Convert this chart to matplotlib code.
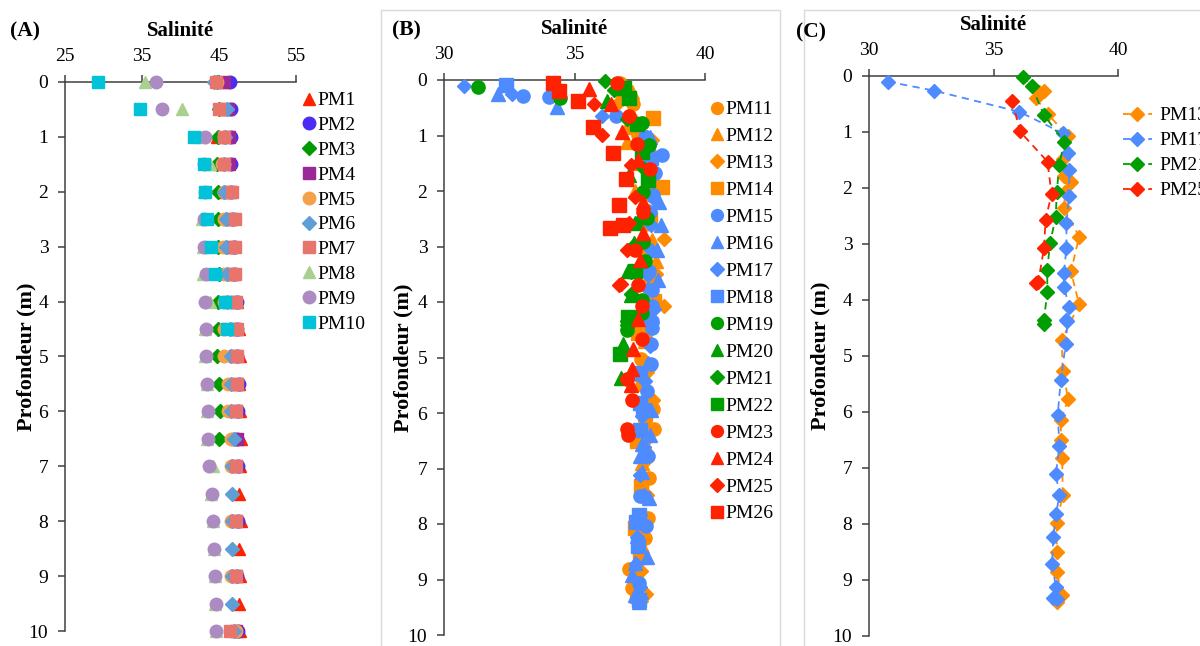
"""Salinity depth profiles, three panels (A, B, C)."""

import matplotlib
matplotlib.use("Agg")
import matplotlib.pyplot as plt
import numpy as np
from matplotlib.patches import Rectangle

nan = np.nan

# ---- panel A: PM1-PM10, one reading every 0.5 m ----
depth_a = [0, 0.5, 1, 1.5, 2, 2.5, 3, 3.5, 4, 4.5, 5, 5.5, 6, 6.5, 7, 7.5, 8, 8.5, 9, 9.5, 10]
pm1 = [45.6, 45.8, 44.7, 44.9, 45.6, 46.2, 46.5, 46.8, 47.4, 47.6, 47.7, 47.6, 47.7, 47.8, 47.7, 47.6, 47.8, 47.6, 47.7, 47.6, 47.7]
pm2 = [46.4, 46.5, 46.5, 46.5, 46.6, 46.8, 46.9, 47.0, 47.3, 47.3, 47.4, 47.6, 47.5, 47.4, 47.5, nan, 47.5, nan, 47.4, nan, 47.5]
pm3 = [44.8, 45.0, 44.9, 44.8, 44.9, 44.9, 44.9, 45.0, 44.9, 44.9, 44.8, 45.0, 45.1, 45.05, nan, nan, nan, nan, nan, nan, nan]
pm4 = [45.6, 46.2, 46.3, 46.3, 46.4, 46.5, 46.6, 46.7, 47.0, 47.1, 47.1, 47.3, 47.2, 47.3, 47.2, nan, 47.2, nan, 47.2, nan, 47.2]
pm5 = [44.8, 45.3, 45.6, 45.4, 45.6, 45.6, 45.5, 45.6, 45.7, 45.6, 45.7, 46.2, 46.2, 46.5, 46.5, nan, 46.5, nan, 46.6, nan, 47.2]
pm6 = [44.3, 46.0, 45.8, 45.7, 45.7, 45.9, 45.9, 46.0, 46.1, 46.4, 46.6, 46.5, 46.5, 46.9, 46.7, 46.7, 46.7, 46.7, 46.7, 46.7, 46.9]
pm7 = [44.6, 45.0, 45.7, 45.7, 46.7, 47.1, 47.1, 47.1, 47.2, 47.3, 47.3, 47.3, 47.2, nan, 47.15, nan, 47.2, nan, 47.15, nan, 46.4]
pm8 = [35.4, 40.2, 42.6, 43.8, 43.0, 42.8, 42.9, 42.9, 43.8, 43.2, 43.2, 43.4, 43.5, 43.5, 44.2, 44.0, 44.2, 44.35, 44.45, 44.5, 44.55]
pm9 = [36.8, 37.6, 43.2, 43.0, 43.2, 43.0, 43.0, 43.3, 43.2, 43.3, 43.3, 43.5, 43.6, 43.6, 43.7, 44.05, 44.26, 44.4, 44.48, 44.57, 44.6]
pm10 = [29.25, 34.7, 41.8, 43.1, 43.2, 43.5, 44.0, 44.5, 45.8, 46.0, nan, nan, nan, nan, nan, nan, nan, nan, nan, nan, nan]

# ---- panel B/C: PM11-PM26, irregular depths ----
pm11_d = [0.05, 0.43, 0.99, 1.5, 2.0, 2.6, 3.1, 3.6, 4.1, 4.6, 5.03, 5.5, 5.92, 6.29, 6.7, 7.17, 7.5, 7.89, 8.25, 8.81, 9.16]
pm11_s = [36.74, 37.25, 37.44, 37.6, 37.7, 37.75, 37.8, 37.9, 37.95, 37.7, 37.55, 37.6, 38.0, 38.05, 37.7, 37.85, 37.6, 37.8, 37.72, 37.1, 37.2]
pm12_d = [0.21, 0.84, 1.11, 1.5, 2.0, 2.4, 2.88, 3.27, 3.7, 4.2, 4.7, 5.2, 5.7, 6.2, 6.9, 7.4, 7.9, 8.4, 8.9]
pm12_s = [37.19, 37.02, 37.02, 37.4, 37.3, 37.7, 37.97, 38.12, 37.9, 37.8, 37.7, 37.6, 37.9, 37.7, 37.58, 37.6, 37.5, 37.6, 37.4]
pm13_d = [0.26, 0.28, 0.40, 0.67, 1.08, 1.49, 1.79, 1.89, 2.07, 2.36, 2.87, 3.49, 4.08, 4.71, 5.27, 5.77, 6.14, 6.50, 6.83, 7.48, 7.99, 8.50, 8.85, 9.26, 9.39]
pm13_s = [37.03, 36.84, 36.71, 37.17, 37.98, 37.78, 37.83, 38.11, 37.87, 37.84, 38.44, 38.11, 38.44, 37.74, 37.78, 38.0, 37.7, 37.71, 37.76, 37.78, 37.54, 37.54, 37.54, 37.74, 37.54]
pm14_d = [0.69, 1.2, 1.93, 2.5, 3.0, 3.99, 4.56, 5.3, 6.0, 6.5, 7.31, 8.07, 8.6, 9.3]
pm14_s = [38.02, 37.8, 38.34, 37.9, 37.7, 38.05, 37.42, 37.6, 37.7, 37.4, 37.56, 37.33, 37.5, 37.4]
pm15_d = [0.28, 0.30, 0.65, 1.02, 1.35, 1.67, 2.07, 2.38, 3.44, 3.78, 4.08, 4.35, 4.47, 4.75, 5.12, 5.6, 6.78, 7.5, 8.03, 9.06]
pm15_s = [33.04, 34.03, 36.59, 37.70, 38.34, 38.08, 37.99, 37.9, 37.85, 37.96, 37.96, 37.96, 37.96, 37.92, 37.92, 37.77, 37.8, 37.5, 37.74, 37.49]
pm16_d = [0.26, 0.49, 1.02, 2.19, 2.61, 3.06, 3.60, 5.1, 5.94, 6.39, 6.55, 6.77, 7.06, 7.53, 8.22, 8.59, 8.7, 8.91, 9.28, 9.4]
pm16_s = [32.08, 34.32, 37.88, 38.25, 38.3, 38.15, 38.21, 37.8, 37.94, 37.89, 37.6, 37.5, 37.58, 37.85, 37.38, 37.77, 37.3, 37.22, 37.3, 37.46]
pm17_d = [0.10, 0.26, 0.64, 1.02, 1.38, 1.68, 2.14, 2.62, 3.07, 3.51, 3.76, 4.13, 4.35, 4.38, 4.79, 5.43, 6.05, 6.61, 7.11, 7.48, 7.83, 8.23, 8.72, 9.13, 9.33, 9.34]
pm17_s = [30.75, 32.6, 36.04, 37.78, 37.98, 38.04, 38.04, 37.93, 37.93, 37.83, 37.83, 38.04, 37.9, 37.97, 37.9, 37.7, 37.58, 37.65, 37.5, 37.65, 37.51, 37.4, 37.35, 37.51, 37.4, 37.55]
pm18_d = [0.09, 1.41, 5.28, 5.82, 5.94, 6.3, 7.83, 7.97, 8.4, 9.37]
pm18_s = [32.38, 37.95, 37.5, 37.5, 37.62, 37.5, 37.46, 37.37, 37.44, 37.46]
pm19_d = [0.13, 0.33, 0.78, 1.18, 2.01, 2.49, 2.91, 3.27, 3.96, 4.2, 4.39, 4.5]
pm19_s = [31.3, 34.44, 37.57, 37.87, 37.64, 37.77, 37.64, 37.7, 37.6, 37.57, 37.06, 37.0]
pm20_d = [0.37, 1.71, 2.58, 2.94, 3.45, 3.87, 4.75, 5.37]
pm20_s = [36.23, 37.1, 37.32, 37.27, 37.06, 37.15, 36.87, 36.77]
pm21_d = [0.01, 0.18, 0.70, 1.17, 1.59, 2.08, 2.52, 2.98, 3.46, 3.85, 4.35, 4.42]
pm21_s = [36.17, 36.53, 37.03, 37.84, 37.64, 37.54, 37.5, 37.27, 37.16, 37.16, 37.03, 37.03]
pm22_d = [0.15, 0.33, 0.8, 1.3, 1.80, 3.44, 4.27, 4.93]
pm22_s = [36.91, 37.1, 37.4, 37.6, 37.83, 37.3, 37.06, 36.76]
pm23_d = [0.06, 0.65, 1.15, 1.61, 2.37, 3.06, 3.69, 4.08, 4.66, 5.39, 5.77, 6.29, 6.39]
pm23_s = [36.64, 37.1, 37.38, 37.89, 37.64, 37.32, 37.45, 37.58, 37.58, 37.03, 37.19, 37.0, 37.06]
pm24_d = [0.17, 0.43, 0.93, 1.44, 2.2, 2.75, 3.24, 4.31, 4.84, 5.2, 5.5]
pm24_s = [35.57, 36.4, 36.81, 37.42, 37.64, 37.64, 37.51, 37.45, 37.25, 37.2, 37.16]
pm25_d = [0.44, 0.99, 1.53, 2.11, 2.57, 3.07, 3.67, 3.70]
pm25_s = [35.76, 36.06, 37.17, 37.33, 37.09, 37.03, 36.8, 36.72]
pm26_d = [0.05, 0.19, 0.38, 0.84, 1.31, 1.79, 2.25, 2.61, 2.67]
pm26_s = [34.19, 34.42, 35.15, 35.72, 36.49, 36.97, 36.72, 36.87, 36.36]

labels_a = ["PM1", "PM2", "PM3", "PM4", "PM5", "PM6", "PM7", "PM8", "PM9", "PM10"]
values_a = [pm1, pm2, pm3, pm4, pm5, pm6, pm7, pm8, pm9, pm10]
colors_a = ["#ff2200", "#4a2cf2", "#009a00", "#9a2896", "#f5a04a",
            "#5f9fd6", "#e8756c", "#a9d08e", "#ab8bc2", "#00c2d8"]
markers_a = ["^", "o", "D", "s", "o", "D", "s", "^", "o", "s"]

labels_b = [f"PM{i}" for i in range(11, 27)]
depths_b = [pm11_d, pm12_d, pm13_d, pm14_d, pm15_d, pm16_d, pm17_d, pm18_d,
            pm19_d, pm20_d, pm21_d, pm22_d, pm23_d, pm24_d, pm25_d, pm26_d]
values_b = [pm11_s, pm12_s, pm13_s, pm14_s, pm15_s, pm16_s, pm17_s, pm18_s,
            pm19_s, pm20_s, pm21_s, pm22_s, pm23_s, pm24_s, pm25_s, pm26_s]
group_colors = ["#ff8c00", "#4d8bff", "#009e00", "#ff2200"]
group_markers = ["o", "^", "D", "s"]

labels_c = ["PM13", "PM17", "PM21", "PM25"]
colors_c = ["#ff8c00", "#4d8bff", "#009e00", "#ff2200"]

plt.rcParams["font.family"] = ["Liberation Serif", "DejaVu Serif"]
plt.rcParams["font.size"] = 14

W, H = 1200, 646


def frac(left, top, right, bottom):
    """Pixel box -> figure fractions for add_axes."""
    return [left / W, 1 - bottom / H, (right - left) / W, (bottom - top) / H]


def style_axis(ax, xlim, xticks, ylabel_px):
    ax.set_xlim(*xlim)
    ax.set_ylim(10, 0)
    ax.set_xticks(xticks)
    ax.set_yticks(range(0, 11))
    ax.xaxis.tick_top()
    ax.xaxis.set_label_position("top")
    for side in ("right", "bottom"):
        ax.spines[side].set_visible(False)
    for side in ("left", "top"):
        ax.spines[side].set_color("#404040")
        ax.spines[side].set_linewidth(1.1)
    ax.tick_params(axis="both", direction="out", length=5, width=1.1,
                   color="#404040", labelsize=14, pad=7)
    ax.set_xlabel("Salinité", fontweight="bold", fontsize=15, labelpad=9)
    ax.set_ylabel("Profondeur (m)", fontweight="bold", fontsize=16)
    # y label: its right edge sits a fixed number of pixels left of the axis
    width_px = ax.get_position().width * W
    ax.yaxis.set_label_coords(ylabel_px / width_px, 0.5)


fig = plt.figure(figsize=(W / 100, H / 100), dpi=100)

# panel frames for B and C
for box in [(381, 10, 780, 700), (804, 10, 1300, 700)]:
    x0, y0, x1, y1 = box
    fig.add_artist(Rectangle((x0 / W, 1 - y1 / H), (x1 - x0) / W, (y1 - y0) / H,
                             transform=fig.transFigure, fill=False,
                             edgecolor="#d9d9d9", linewidth=1, clip_on=False))

# ---- A ----
ax_a = fig.add_axes(frac(65, 82, 296, 631))
style_axis(ax_a, (25, 55), [25, 35, 45, 55], -29)
for lab, vals, col, mk in zip(labels_a, values_a, colors_a, markers_a):
    ms = 7 if mk == "D" else 9
    ax_a.plot(vals, depth_a, linestyle="none", marker=mk, ms=ms, color=col,
              label=lab, clip_on=False, zorder=3)
ax_a.legend(loc="upper left", bbox_to_anchor=(293 / W, 1 - 82 / H),
            bbox_transform=fig.transFigure, frameon=False, handlelength=0.6,
            handletextpad=0.15, labelspacing=0.37, borderpad=0, fontsize=14)
fig.text(10 / W, 1 - 31 / H, "(A)", fontweight="bold", fontsize=15.5, va="center")

# ---- B ----
ax_b = fig.add_axes(frac(444, 80, 705, 635))
style_axis(ax_b, (30, 40), [30, 35, 40], -31)
for i, (lab, d, s) in enumerate(zip(labels_b, depths_b, values_b)):
    col = group_colors[i // 4]
    mk = group_markers[i % 4]
    ms = 7.5 if mk == "D" else 9.5
    ax_b.plot(s, d, linestyle="none", marker=mk, ms=ms, color=col,
              label=lab, clip_on=False, zorder=3)
ax_b.legend(loc="upper left", bbox_to_anchor=(701 / W, 1 - 91 / H),
            bbox_transform=fig.transFigure, frameon=False, handlelength=0.6,
            handletextpad=0.15, labelspacing=0.48, borderpad=0, fontsize=14,
            markerscale=0.9)
fig.text(392 / W, 1 - 30 / H, "(B)", fontweight="bold", fontsize=15.5, va="center")

# ---- C ----
ax_c = fig.add_axes(frac(869, 76, 1118, 636))
style_axis(ax_c, (30, 40), [30, 35, 40], -39)
for lab, col in zip(labels_c, colors_c):
    i = labels_b.index(lab)
    ax_c.plot(values_b[i], depths_b[i], linestyle=(0, (4, 3)), linewidth=1.3,
              marker="D", ms=7.5, color=col, label=lab, clip_on=False, zorder=3)
ax_c.legend(loc="upper left", bbox_to_anchor=(1113 / W, 1 - 97 / H),
            bbox_transform=fig.transFigure, frameon=False, handlelength=1.5,
            handletextpad=0.4, labelspacing=0.38, borderpad=0, fontsize=14)
fig.text(796 / W, 1 - 32 / H, "(C)", fontweight="bold", fontsize=15.5, va="center")

fig.savefig("out.png", dpi=100)
